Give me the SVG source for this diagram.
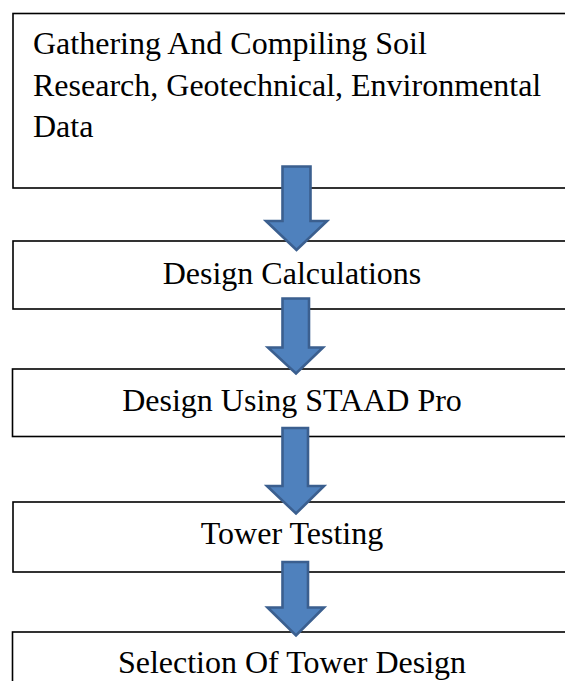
<svg xmlns="http://www.w3.org/2000/svg" width="565" height="681" viewBox="0 0 565 681">
<style>
.box{fill:#ffffff;stroke:#000000;stroke-width:1.6}
.t{font-family:"Times New Roman","Liberation Serif",Tinos,"DejaVu Serif",serif;font-size:32px;fill:#000000}
.c{text-anchor:middle}
.arr{fill:#4f81bd;stroke:#3b5f8f;stroke-width:2.6;stroke-linejoin:miter}
</style>
<rect width="565" height="681" fill="#ffffff"/>
<g id="n1">
<rect class="box" x="13" y="13.5" width="580" height="174.5"/>
<text class="t" x="33" y="54">Gathering And Compiling Soil</text>
<text class="t" x="33" y="96">Research, Geotechnical, Environmental</text>
<text class="t" x="33" y="137">Data</text>
</g>
<g id="n2">
<rect class="box" x="13" y="241" width="580" height="68"/>
<text class="t c" x="292" y="284">Design Calculations</text>
</g>
<g id="n3">
<rect class="box" x="12.5" y="369" width="580" height="67.5"/>
<text class="t c" x="292" y="411">Design Using STAAD Pro</text>
</g>
<g id="n4">
<rect class="box" x="13" y="502" width="580" height="70"/>
<text class="t c" x="292" y="544">Tower Testing</text>
</g>
<g id="n5">
<rect class="box" x="12.5" y="632" width="580" height="80"/>
<text class="t c" x="292" y="673">Selection Of Tower Design</text>
</g>
<g id="connectors">
<path class="arr" d="M282.5 166.5 H310.5 V221 H327 L296.5 250 L266 221 H282.5 Z"/>
<path class="arr" d="M282.5 298.5 H309 V347.5 H323 L296 373.5 L268 347.5 H282.5 Z"/>
<path class="arr" d="M282.5 428 H308 V486 H324 L296 513.5 L267 486 H282.5 Z"/>
<path class="arr" d="M282.5 562 H308 V607.5 H324 L296 635.5 L267.5 607.5 H282.5 Z"/>
</g>
</svg>
